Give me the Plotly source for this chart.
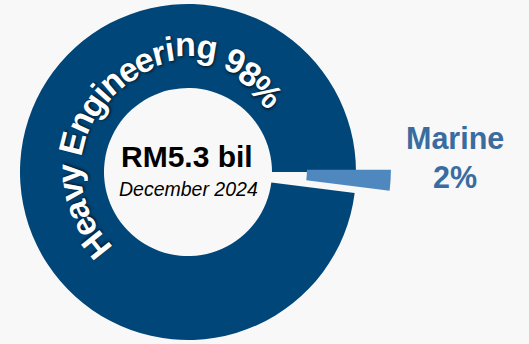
import numpy as np
import plotly.graph_objects as go

# ---- data ----
labels = ["Marine", "Heavy Engineering"]
values = [2, 98]
total_label = "RM5.3 bil"
period_label = "December 2024"

W, H = 529, 344
BG = "#f8f8f8"
C_HE = "#004678"
C_MAR = "#4f88bf"
C_MAR_TXT = "#3a6c9f"

pct = [round(v / sum(values) * 100) for v in values]

# geometry (pixels)
cx, cy, R = 188, 172, 168
pull_px = 35
mid_angle = np.deg2rad(values[0] / sum(values) * 360 / 2)
mx = cx + pull_px * np.cos(mid_angle)
my = cy - pull_px * np.sin(mid_angle)


def dom(x0, y0, r):
    return dict(x=[(x0 - r) / W, (x0 + r) / W],
                y=[(H - y0 - r) / H, (H - y0 + r) / H])


fig = go.Figure()
fig.add_trace(go.Pie(
    labels=labels, values=values, sort=False, direction="counterclockwise",
    rotation=90, hole=0.5, textinfo="none", showlegend=False,
    marker=dict(colors=["rgba(0,0,0,0)", C_HE], line=dict(width=0)),
    domain=dom(cx, cy, R)))
fig.add_trace(go.Pie(
    labels=labels, values=values, sort=False, direction="counterclockwise",
    rotation=90, hole=0.5, textinfo="none", showlegend=False,
    marker=dict(colors=[C_MAR, "rgba(0,0,0,0)"], line=dict(width=0)),
    domain=dom(mx, my, R)))

annotations = []


def px_ann(text, x, y, size, color, bold=True, italic=False, angle=0, shadow=None):
    t = text
    if bold:
        t = "<b>" + t + "</b>"
    if italic:
        t = "<i>" + t + "</i>"
    f = dict(family="Arial, Liberation Sans, sans-serif", size=size, color=color)
    if shadow:
        f["shadow"] = shadow
    annotations.append(dict(text=t, x=x / W, y=1 - y / H, xref="paper", yref="paper",
                            showarrow=False, xanchor="center", yanchor="middle",
                            textangle=angle, font=f))


# centre text
px_ann(total_label, 187, 157, 30, "#000000")
px_ann(period_label, 188, 189, 19.5, "#000000", bold=False, italic=True)

# Marine label
px_ann(labels[0], 455, 138, 30.5, C_MAR_TXT)
px_ann(f"{pct[0]}%", 455, 177, 30.5, C_MAR_TXT)

# curved label for Heavy Engineering (per glyph along the ring)
arc_text = f"{labels[1]} {pct[1]}%"
adv = {"H": 722, "e": 556, "a": 556, "v": 556, "y": 556, " ": 278, "E": 667,
       "n": 611, "g": 611, "i": 278, "r": 389, "9": 556, "8": 556, "%": 889}
F = 34
track_r = 118
start_deg = 218.6
cum = []
s = 0
for ch in arc_text:
    cum.append(s + adv[ch] / 2)
    s += adv[ch]
r_ang = [40, 59, 67, 80, 90, 100, 115, 145, 170, 200, 225]
r_val = [110, 117, 121, 126, 129, 124, 119, 118, 120, 118, 117]
for ch, c in zip(arc_text, cum):
    if ch == " ":
        continue
    th = start_deg - np.rad2deg((c - cum[0]) * F / 1000 / track_r)
    r = np.interp(th, r_ang, r_val)
    x = cx + r * np.cos(np.deg2rad(th))
    y = cy - r * np.sin(np.deg2rad(th))
    ang = 90 - th
    ang = (ang + 180) % 360 - 180
    px_ann(ch, x, y, F, "#ffffff", angle=ang, shadow="1px 1px 3px rgba(0,0,0,0.75)")

fig.update_layout(
    width=W, height=H, margin=dict(l=0, r=0, t=0, b=0),
    paper_bgcolor=BG, plot_bgcolor=BG, annotations=annotations)

fig.write_html("out.html")
